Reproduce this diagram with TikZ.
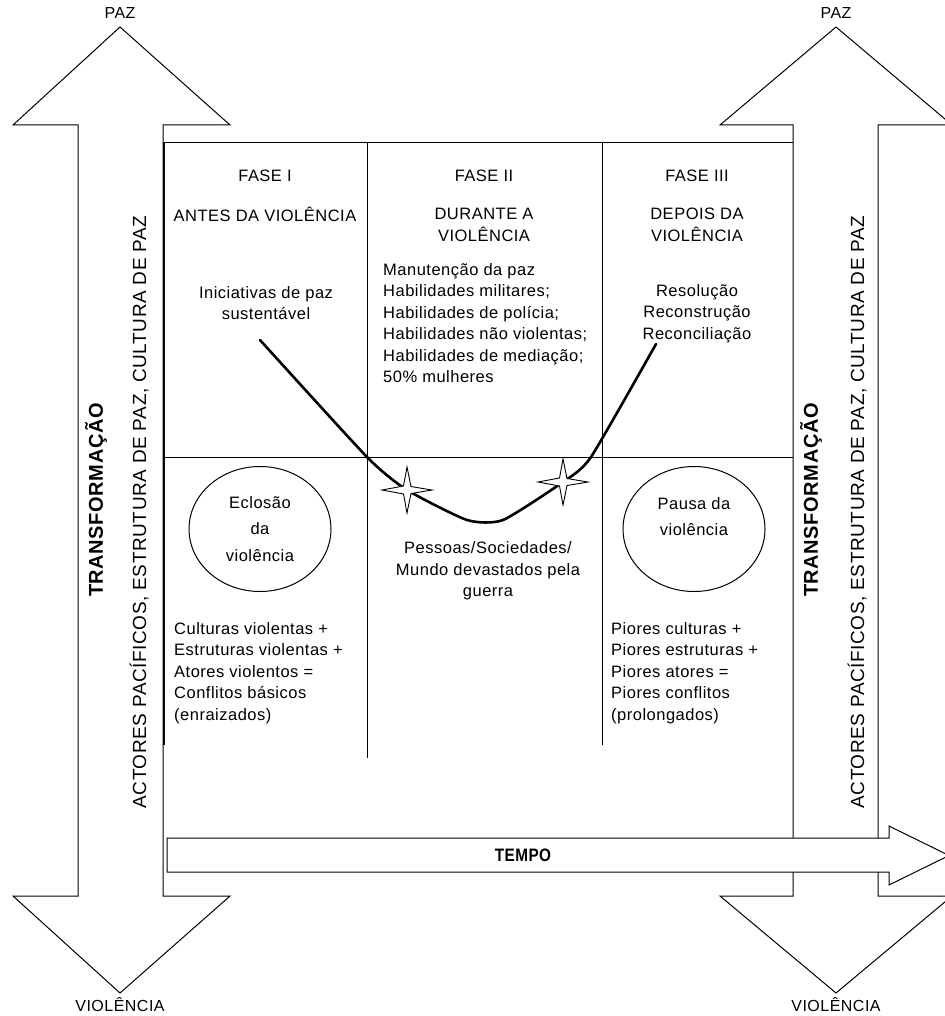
\documentclass[tikz,border=0pt]{standalone}
\usepackage{fontspec}
\setmainfont{Liberation Sans}[LetterSpace=3]
\usetikzlibrary{shapes.geometric}
\begin{document}
\begin{tikzpicture}[x=1pt,y=-1pt,
  outline/.style={draw=black, line width=1pt, fill=white, line join=miter},
  grid/.style={draw=black, line width=1pt},
  thickgrid/.style={draw=black, line width=2.2pt},
  curveline/.style={draw=black, line width=2.6pt, line join=round, line cap=round},
  txt/.style={font=\fontsize{16.5}{21.5}\selectfont, inner sep=0pt, align=center},
  ltxt/.style={txt, align=left, anchor=west},
  ctxt/.style={font=\fontsize{16.5}{26.5}\selectfont, inner sep=0pt, align=center},
  endtxt/.style={font=\fontsize{16}{18}\selectfont, inner sep=0pt},
  vtxt/.style={rotate=90, inner sep=0pt, font=\fontsize{19}{22}\selectfont},
  vbold/.style={rotate=90, inner sep=0pt, font=\fontsize{20}{22}\selectfont\bfseries},
  oval/.style={draw=black, line width=1pt, ellipse, minimum width=142pt, minimum height=125pt, inner sep=0pt},
  sparkle/.pic={\draw[black, line width=0.9pt, fill=white, line join=miter]
     (25,0) -- (4,-3.5) -- (0,-23) -- (-3.5,-4) -- (-25,0) -- (-3.5,4) -- (0,23) -- (4,3.5) -- cycle;}
]
\fill[white] (0,0) rectangle (944,1016);
\useasboundingbox (0,0) rectangle (944,1016);

% big vertical double arrows
\draw[outline] (13,125) -- (120,27) -- (230,125) -- (163,125) -- (163,896) -- (230,896)
   -- (120,993) -- (13,896) -- (78,896) -- (78,125) -- cycle;
\draw[outline] (720,125) -- (836,27) -- (952,125) -- (878,125) -- (878,896) -- (952,896)
   -- (836,993) -- (720,896) -- (793,896) -- (793,125) -- cycle;

\node[endtxt] (pazL) at (120,13) {PAZ};
\node[endtxt] (pazR) at (836,13) {PAZ};
\node[endtxt] (violL) at (120,1005) {VIOLÊNCIA};
\node[endtxt] (violR) at (836,1005) {VIOLÊNCIA};

\node[vbold] (trL) at (96,500) {TRANSFORMAÇÃO};
\node[vtxt] (acL) at (139,512) {ACTORES PACÍFICOS, ESTRUTURA DE PAZ, CULTURA DE PAZ};
\node[vbold] (trR) at (811,500) {TRANSFORMAÇÃO};
\node[vtxt] (acR) at (857,512) {ACTORES PACÍFICOS, ESTRUTURA DE PAZ, CULTURA DE PAZ};

% the table
\coordinate (tl) at (164,143);
\coordinate (bl) at (164,745);
\draw[grid] (163,143) -- (793,143);
\draw[thickgrid] (tl) -- (bl);
\draw[grid] (367,143) -- (367,758);
\draw[grid] (602,143) -- (602,745);
\draw[grid] (163,457) -- (793,457);

% headings
\node[txt] (f1) at (265,176) {FASE I};
\node[txt] (f2) at (484,176) {FASE II};
\node[txt] (f3) at (697,176) {FASE III};
\node[txt] (h1) at (265,214) {ANTES DA VIOLÊNCIA};
\node[txt] (h2) at (484,225) {DURANTE A\\VIOLÊNCIA};
\node[txt] (h3) at (697,225) {DEPOIS DA\\VIOLÊNCIA};

\node[txt] (t1) at (266,303) {Iniciativas de paz\\sustentável};
\node[ltxt] (t2) at (383,323) {Manutenção da paz\\Habilidades militares;\\Habilidades de polícia;\\Habilidades não violentas;\\Habilidades de mediação;\\50\% mulheres};
\node[txt] (t3) at (697,313.5) {Resolução\\Reconstrução\\Reconciliação};

% ovals
\node[oval] (o1) at (260,529) {};
\node[ctxt] (o1t) at (o1) {Eclosão\\da\\violência};
\node[oval] (o2) at (694,529) {};
\node[ctxt] (o2t) at (694,516.5) {Pausa da\\violência};

\node[txt] (mid) at (488,571) {Pessoas/Sociedades/\\Mundo devastados pela\\guerra};

\node[ltxt] (b1) at (174,673) {Culturas violentas +\\Estruturas violentas +\\Atores violentos =\\Conflitos básicos\\(enraizados)};
\node[ltxt] (b3) at (611,673) {Piores culturas +\\Piores estruturas +\\Piores atores =\\Piores conflitos\\(prolongados)};

% the curve
\coordinate (c0) at (260,340);
\coordinate (c1) at (367,457);
\coordinate (s1) at (407,490);
\coordinate (c2) at (467,520);
\coordinate (c3) at (503,520);
\coordinate (s2) at (563,482);
\coordinate (c4) at (591,457);
\coordinate (c5) at (656,344);
\draw[curveline] plot[smooth, tension=0.35] coordinates {(c0) (c1) (s1) (c2) (c3) (s2) (c4) (c5)};
\pic at (s1) {sparkle};
\pic at (s2) {sparkle};

% time arrow
\draw[outline] (167,838) -- (889,838) -- (889,826) -- (949,855.5) -- (889,885) -- (889,872) -- (167,872) -- cycle;
\node[inner sep=0pt, font=\fontsize{18}{20}\selectfont\bfseries, xscale=0.85] (tempo) at (523,855) {TEMPO};
\end{tikzpicture}
\end{document}
